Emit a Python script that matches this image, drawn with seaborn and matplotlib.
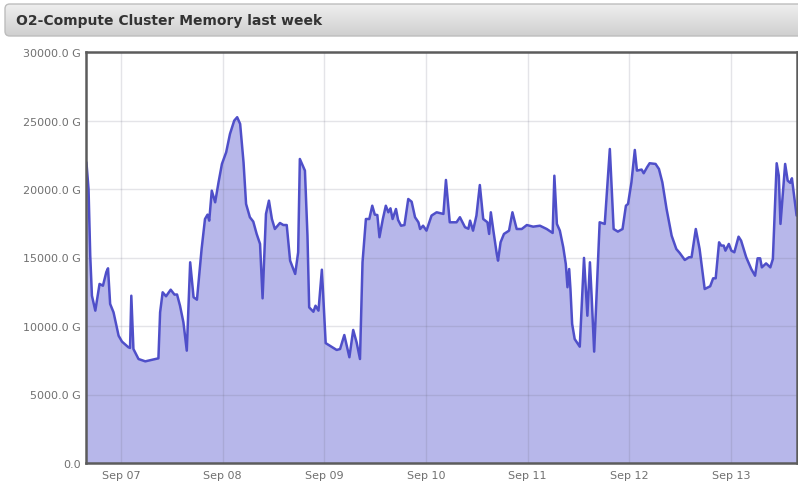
import numpy as np
import pandas as pd
import seaborn as sns
import matplotlib.pyplot as plt
import matplotlib.dates as mdates
from matplotlib.patches import FancyBboxPatch
from matplotlib.colors import LinearSegmentedColormap
from matplotlib.ticker import FuncFormatter, MultipleLocator

# hours since Sep 07 00:00, and cluster memory in GB
hours = [-8.2, -7.7, -7.3, -6.9, -6.1, -5.1, -4.3, -3.5, -3.1, -2.6,
         -1.8, -0.6, 0.2, 1.7, 2.1, 2.4, 2.9, 4.1, 5.7, 8.8,
         9.2, 9.8, 10.6, 11.7, 12.6, 13.2, 13.9, 14.7, 15.5, 16.3,
         17.1, 17.9, 19.0, 19.8, 20.4, 20.8, 21.4, 22.2, 23.0, 23.8,
         24.8, 25.7, 26.7, 27.4, 28.1, 28.9, 29.5, 30.4, 31.2, 32.0,
         32.8, 33.4, 34.2, 34.9, 35.6, 36.3, 37.5, 38.3, 39.1, 39.9,
         41.1, 41.8, 42.2, 43.4, 44.0, 44.4, 45.4, 45.9, 46.6, 47.4,
         48.3, 49.3, 50.9, 51.7, 52.7, 53.9, 54.8, 55.6, 56.4, 57.0,
         57.8, 58.6, 59.3, 59.9, 60.5, 61.0, 61.8, 62.5, 63.1, 63.6,
         64.1, 64.9, 65.4, 66.1, 66.9, 67.8, 68.6, 69.4, 70.2, 70.6,
         71.3, 72.1, 73.3, 74.5, 76.1, 76.7, 77.6, 79.2, 80.0, 81.2,
         82.0, 82.4, 83.1, 83.9, 84.7, 85.5, 86.5, 86.9, 87.3, 87.9,
         88.7, 89.0, 89.6, 90.4, 91.6, 92.4, 93.4, 94.6, 95.8, 97.3,
         98.9, 100.5, 101.9, 102.3, 102.9, 103.6, 104.4, 105.0, 105.4, 105.8,
         106.1, 106.5, 107.1, 108.3, 109.3, 110.1, 110.7, 111.1, 111.7, 112.4,
         113.0, 114.2, 115.4, 116.3, 117.3, 118.4, 119.2, 119.7, 120.5, 121.3,
         121.8, 122.9, 123.4, 124.2, 124.8, 126.2, 127.0, 127.8, 128.8, 130.0,
         131.1, 131.9, 133.1, 134.1, 134.7, 135.7, 136.6, 137.8, 139.1, 139.8,
         140.4, 141.2, 141.7, 142.3, 142.7, 143.5, 144.1, 144.8, 145.8, 146.4,
         147.6, 148.8, 149.7, 150.3, 150.9, 151.3, 152.3, 153.3, 153.9, 154.8,
         155.3, 155.7, 156.8, 157.4, 158.0, 158.4, 159.0, 159.5]
mem_gb = [21950, 20000, 15130, 12210, 11120, 13070, 12940, 13940, 14210, 11610,
          11000, 9290, 8860, 8450, 8400, 12210, 8320, 7590, 7420, 7640,
          11000, 12460, 12170, 12650, 12290, 12300, 11480, 10270, 8200, 14650,
          12100, 11920, 15620, 17810, 18130, 17690, 19880, 19030, 20490, 21830,
          22680, 24020, 24990, 25240, 24750, 21950, 18910, 17940, 17620, 16720,
          15990, 12020, 18180, 19150, 17810, 17080, 17520, 17370, 17370, 14770,
          13800, 15380, 22190, 21340, 16590, 11360, 11040, 11480, 11120, 14110,
          8750, 8560, 8250, 8320, 9340, 7720, 9710, 8810, 7590, 14650,
          17810, 17810, 18780, 18130, 18100, 16480, 17810, 18780, 18300, 18590,
          17810, 18540, 17740, 17320, 17370, 19270, 19070, 17940, 17570, 17080,
          17320, 16960, 18060, 18300, 18180, 20660, 17570, 17570, 17940, 17210,
          17100, 17690, 16960, 18060, 20290, 17810, 17570, 16720, 18300, 16960,
          15260, 14770, 16110, 16720, 16960, 18300, 17080, 17080, 17370, 17250,
          17320, 17080, 16790, 20970, 17450, 16960, 15750, 14530, 12830, 14160,
          12700, 10150, 9050, 8490, 14970, 10750, 14650, 12210, 8130, 13190,
          17570, 17450, 22920, 17080, 16890, 17080, 18780, 18910, 20490, 22850,
          21340, 21420, 21150, 21590, 21880, 21830, 21460, 20490, 18540, 16590,
          15620, 15330, 14820, 15020, 15020, 17080, 15620, 12700, 12900, 13480,
          13480, 16110, 15870, 15870, 15500, 15990, 15500, 15380, 16520, 16230,
          15020, 14160, 13670, 14940, 14940, 14280, 14570, 14280, 14890, 21880,
          20970, 17450, 21830, 20610, 20450, 20780, 19270, 18060]
title = "O2-Compute Cluster Memory last week"

day0 = pd.Timestamp("2017-09-07 00:00")
df = pd.DataFrame({"time": day0 + pd.to_timedelta(hours, unit="h"), "memory": mem_gb})

sns.set_theme(style="whitegrid")
plt.rcParams['font.family'] = ['DejaVu Sans']

fig = plt.figure(figsize=(7.98, 4.85), dpi=100)
fig.patch.set_facecolor("white")

# title bar with a soft gray gradient
tax = fig.add_axes([5 / 798, (485 - 37) / 485, 800 / 798, 32 / 485])
tax.axis("off")
grad = np.linspace(0, 1, 64).reshape(-1, 1)
cmap = LinearSegmentedColormap.from_list("bar", ["#efefef", "#cfcfcf"])
im = tax.imshow(grad, aspect="auto", cmap=cmap, extent=[0, 1, 0, 1])
box = FancyBboxPatch((0, 0), 1, 1, boxstyle="round,pad=0,rounding_size=0.006",
                     mutation_aspect=25, transform=tax.transAxes,
                     facecolor="none", edgecolor="#bdbdbd", linewidth=1, clip_on=False)
tax.add_patch(box)
im.set_clip_path(box)
tax.text(11 / 800, 0.5, title, transform=tax.transAxes, fontsize=10,
         fontweight="bold", color="#333333", va="center", ha="left")

# main chart
ax = fig.add_axes([86 / 798, 21 / 485, 711 / 798, 411 / 485])
ax.fill_between(df["time"], df["memory"], 0, color="#4d4dcc", alpha=0.4,
                linewidth=0, zorder=2)
sns.lineplot(data=df, x="time", y="memory", ax=ax, color="#4f4fc9",
             linewidth=1.8, zorder=3)

ax.set_xlim(day0 - pd.Timedelta(hours=8.3), day0 + pd.Timedelta(hours=159.6))
ax.set_ylim(0, 30000)
ax.yaxis.set_major_locator(MultipleLocator(5000))
ax.yaxis.set_major_formatter(FuncFormatter(lambda v, p: "0.0" if v == 0 else f"{v:.1f} G"))
ax.xaxis.set_major_locator(mdates.DayLocator())
ax.xaxis.set_major_formatter(mdates.DateFormatter("%b %d"))
ax.set_xlabel("")
ax.set_ylabel("")

# faint grid drawn over the fill, under the line
ax.set_axisbelow(False)
ax.grid(True, color="#6a6a80", alpha=0.18, linewidth=1)
ax.tick_params(length=0, labelsize=8, labelcolor="#707070")
ax.tick_params(axis="y", pad=4)
ax.tick_params(axis="x", pad=5)
for s in ax.spines.values():
    s.set_visible(True)
    s.set_color("#5c5c5c")
    s.set_linewidth(1.8)
    s.set_zorder(4)

plt.savefig("out.png", dpi=100)
